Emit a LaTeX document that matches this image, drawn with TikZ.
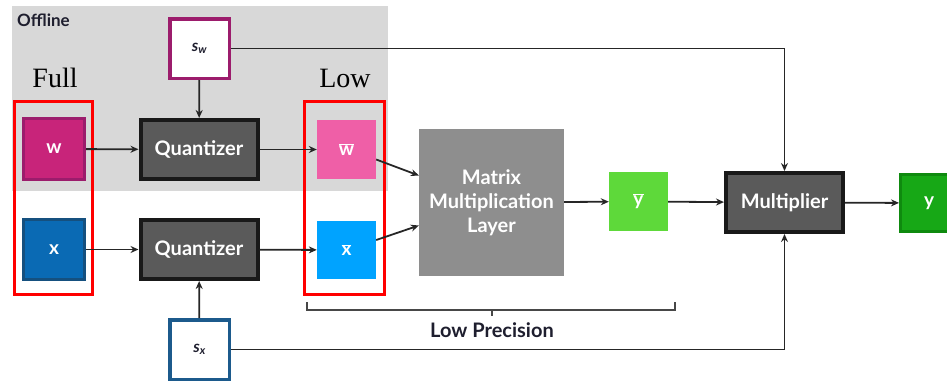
\documentclass[tikz,border=0pt]{standalone}
\usepackage{fontspec}
\setsansfont{Lato}
\newfontfamily\tms{Liberation Serif}
\usetikzlibrary{arrows.meta,calc}
\definecolor{offbg}{HTML}{D8D8D8}
\definecolor{magb}{HTML}{9C1C6C}
\definecolor{wfill}{HTML}{C8247A}
\definecolor{wbfill}{HTML}{EF5FA7}
\definecolor{xfill}{HTML}{0A6AB4}
\definecolor{xbord}{HTML}{15507F}
\definecolor{xbfill}{HTML}{00A3FF}
\definecolor{sxb}{HTML}{1C5A8C}
\definecolor{qfill}{HTML}{5A5A5A}
\definecolor{mmlfill}{HTML}{8E8E8E}
\definecolor{ybfill}{HTML}{5ED93A}
\definecolor{yfill}{HTML}{17A816}
\definecolor{ybord}{HTML}{0F8A0F}
\definecolor{lnc}{HTML}{262626}
\definecolor{txtd}{HTML}{1E1E2E}
\tikzset{
  sqbox/.style={draw, line width=3pt, minimum width=60pt, minimum height=60pt, inner sep=0pt, font=\sffamily\bfseries\fontsize{19}{22}\selectfont, text=white},
  plainbox/.style={minimum width=59pt, minimum height=59pt, inner sep=0pt, font=\sffamily\bfseries\fontsize{19}{22}\selectfont, text=white},
  qbox/.style={draw=black!90, fill=qfill, line width=4pt, minimum width=117pt, minimum height=59pt, inner sep=0pt, font=\sffamily\bfseries\fontsize{20}{24}\selectfont, text=white},
  scalebox/.style={draw, fill=white, line width=3.5pt, minimum width=59.5pt, minimum height=59.5pt, inner sep=0pt, font=\sffamily\bfseries\itshape\fontsize{16}{18}\selectfont, text=txtd},
  redbox/.style={draw=red, line width=3pt, inner sep=0pt},
  arr/.style={draw=lnc, line width=1.8pt, -{Stealth[length=8pt,width=7pt]}},
  brace/.style={draw=lnc!85, line width=1.8pt},
  serlab/.style={font=\tms\fontsize{28}{32}\selectfont, text=black},
}
\begin{document}
\begin{tikzpicture}[x=1pt,y=-1pt]
\useasboundingbox (0,0) rectangle (947,380);
\node[fill=offbg, minimum width=376pt, minimum height=185pt, inner sep=0pt, anchor=north west] (off) at (12,6) {};
\node[anchor=north west, inner sep=0pt, font=\sffamily\bfseries\fontsize{17}{20}\selectfont, text=txtd] (offl) at (17,14) {Offline};
\node[scalebox, draw=magb] (sw) at (199.5,48.5) {\raisebox{-3pt}{s\textsubscript{w}}};
\node[serlab] (full) at (55,78) {Full};
\node[serlab] (low) at (345,78) {Low};
\node[redbox, minimum width=78pt, minimum height=193pt] (redL) at (53.5,198) {};
\node[redbox, minimum width=80pt, minimum height=193pt] (redR) at (344.5,198) {};
\node[sqbox, draw=magb, fill=wfill, minimum height=61pt, minimum width=61pt] (w) at (54,149) {w};
\node[qbox] (q1) at (199,149.5) {Quantizer};
\node[plainbox, fill=wbfill] (wb) at (346.5,149.5) {$\overline{\mbox{\sffamily\bfseries w}}$};
\node[sqbox, draw=xbord, fill=xfill, minimum height=60pt, minimum width=61pt] (x) at (54,249.5) {x};
\node[qbox] (q2) at (199,249.5) {Quantizer};
\node[plainbox, fill=xbfill, minimum height=58pt] (xb) at (346.5,250) {$\overline{\mbox{\sffamily\bfseries x}}$};
\node[scalebox, draw=sxb] (sx) at (199.5,349.5) {\raisebox{-3pt}{s\textsubscript{x}}};
\node[fill=mmlfill, minimum width=145pt, minimum height=147pt, inner sep=0pt, align=center, font=\sffamily\bfseries\fontsize{20}{24}\selectfont, text=white] (mml) at (491.5,202.5) {Matrix\\Multiplication\\Layer};
\node[plainbox, fill=ybfill] (yb) at (638.5,201.5) {$\overline{\mbox{\sffamily\bfseries y}}$};
\node[qbox] (mul) at (784.5,202.5) {Multiplier};
\node[sqbox, draw=ybord, fill=yfill, minimum width=57pt, minimum height=57pt] (y) at (929,203) {y};
\coordinate (b1) at (307,302);
\coordinate (b2) at (675,302);
\coordinate (bm) at (492,310);
\draw[brace] (b1) -- (307,310) -- (675,310) -- (b2);
\draw[brace] (bm) -- ++(0,6);
\node[font=\sffamily\bfseries\fontsize{20}{24}\selectfont, text=txtd] (lp) at (492,330) {Low Precision};
\draw[arr] (sw) -- (q1);
\draw[arr] (sw.east) -| (mul.north);
\draw[arr] (w) -- (q1);
\draw[arr] (q1) -- (wb);
\draw[arr] (x) -- (q2);
\draw[arr] (q2) -- (xb);
\draw[arr] (sx) -- (q2);
\draw[arr] (sx.east) -| (mul.south);
\draw[arr] ($(wb.east)+(0,10)$) -- ($(mml.west)+(0,-27)$);
\draw[arr] ($(xb.east)+(0,-10)$) -- ($(mml.west)+(0,23)$);
\draw[arr] (mml) -- (yb);
\draw[arr] (yb) -- (mul);
\draw[arr] (mul) -- (y);
\end{tikzpicture}
\end{document}
